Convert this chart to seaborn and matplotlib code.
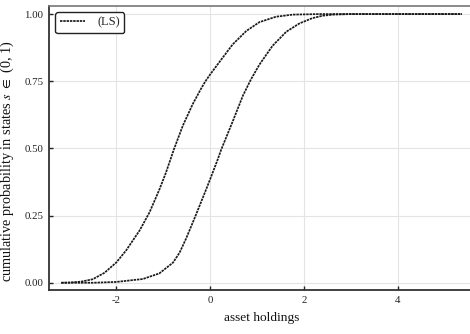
import matplotlib
matplotlib.use("Agg")
import matplotlib.pyplot as plt
import seaborn as sns
import pandas as pd

# Cumulative distributions of asset holdings in the two states
assets_low = [-3.17, -2.99, -2.75, -2.50, -2.25, -2.00, -1.79, -1.50, -1.29, -1.08,
              -0.94, -0.77, -0.58, -0.37, -0.20, -0.10, 0.00, 0.20, 0.48, 0.77,
              1.05, 1.40, 1.76, 2.33, 3.00, 4.00, 5.36]
cdf_low = [0.000, 0.001, 0.004, 0.013, 0.037, 0.075, 0.120, 0.195, 0.262, 0.347,
           0.410, 0.497, 0.585, 0.665, 0.720, 0.750, 0.775, 0.822, 0.887, 0.937,
           0.970, 0.990, 0.998, 1.000, 1.000, 1.000, 1.000]

assets_high = [-3.17, -2.50, -2.00, -1.43, -1.08, -0.79, -0.65, -0.51, -0.32, -0.09,
               0.00, 0.16, 0.24, 0.48, 0.70, 0.87, 1.05, 1.33, 1.62, 1.90,
               2.18, 2.40, 2.62, 3.00, 4.00, 5.36]
cdf_high = [0.000, 0.000, 0.003, 0.014, 0.035, 0.075, 0.112, 0.165, 0.245, 0.345,
            0.385, 0.458, 0.497, 0.600, 0.697, 0.757, 0.812, 0.882, 0.934, 0.965,
            0.985, 0.994, 0.998, 1.000, 1.000, 1.000]

x_ticks = [-2, 0, 2, 4]
y_ticks = [0.0, 0.25, 0.5, 0.75, 1.0]
legend_label = "(LS)"

sns.set_theme(style="white")
plt.rcParams["font.family"] = ["Liberation Serif", "DejaVu Serif"]
plt.rcParams["mathtext.fontset"] = "stix"

fig = plt.figure(figsize=(4.7, 3.34), dpi=100)
ax = fig.add_axes([0.1043, 0.1317, 0.9063, 0.8503])

low = pd.DataFrame({"a": assets_low, "p": cdf_low})
high = pd.DataFrame({"a": assets_high, "p": cdf_high})

dots = (0, (1.4, 0.5))
sns.lineplot(data=low, x="a", y="p", ax=ax, color="#1a1a1a", lw=1.25,
             linestyle=dots, label=legend_label, sort=False)
sns.lineplot(data=high, x="a", y="p", ax=ax, color="#1a1a1a", lw=1.25,
             linestyle=dots, label="_nolegend_", sort=False)

ax.set_xlim(-3.43, 5.64)
ax.set_ylim(-0.027, 1.03)
ax.set_xticks(x_ticks)
ax.set_xticklabels([str(v) for v in x_ticks])
ax.set_yticks(y_ticks)
ax.set_yticklabels([f"{v:.2f}" for v in y_ticks])
ax.grid(True, color="#e4e4e4", lw=0.8)
ax.set_axisbelow(True)

ax.tick_params(direction="in", length=3, width=1, colors="#222222",
               labelsize=7.8, pad=4, bottom=True, left=True)
for s in ("left", "bottom"):
    ax.spines[s].set_color("#333333")
    ax.spines[s].set_linewidth(1.3)
ax.spines["top"].set_color("#777777")
ax.spines["top"].set_linewidth(1.2)
ax.spines["right"].set_visible(False)

ax.set_xlabel("asset holdings", fontsize=9.6, labelpad=5, color="#111111")
ax.set_ylabel(r"cumulative probability in states $s$ $\in$ (0, 1)",
              fontsize=10.3, color="#111111")
ax.yaxis.set_label_coords(-0.077, 0.455)

leg = ax.legend(loc="upper left", fontsize=9, frameon=True, fancybox=True,
                edgecolor="#222222", framealpha=1, handlelength=2.0,
                handletextpad=1.0, borderaxespad=0.5, borderpad=0.35)
leg.get_frame().set_linewidth(1.0)

fig.savefig("out.png", dpi=100)
